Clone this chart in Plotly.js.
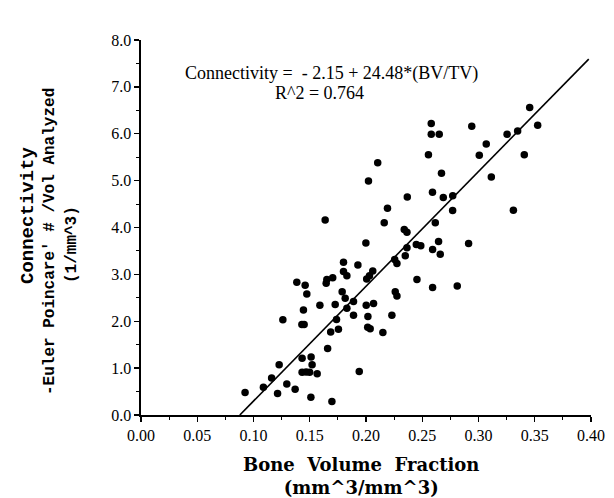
<!DOCTYPE html>
<html>
<head>
<meta charset="utf-8">
<script src="https://cdn.plot.ly/plotly-3.0.1.min.js"></script>
<style>html,body{margin:0;padding:0;background:#fff;}#chart{width:614px;height:498px;}</style>
</head>
<body>
<div id="chart"></div>
<script>
// Bone volume fraction (BV/TV), mm^3/mm^3
const bvtv = [0.0925,0.1088,0.1161,0.1214,0.1228,0.1296,0.1261,0.137,0.1385,0.1459,
  0.1474,0.1444,0.143,0.145,0.1432,0.1432,0.1468,0.1512,0.1521,0.151,
  0.1499,0.1566,0.159,0.1637,0.1652,0.1646,0.1704,0.1659,0.1686,0.1726,
  0.1697,0.1738,0.1755,0.1788,0.18,0.18,0.1815,0.183,0.183,0.1889,
  0.1889,0.1928,0.194,0.1999,0.2006,0.2031,0.206,0.2002,0.2067,0.2017,
  0.2015,0.2037,0.215,0.2162,0.2191,0.223,0.2255,0.2275,0.226,0.2275,
  0.234,0.2364,0.2349,0.2364,0.2367,0.2104,0.2022,0.2447,0.2487,0.2453,
  0.2592,0.2645,0.266,0.2616,0.2592,0.2811,0.2912,0.277,0.2591,0.2687,
  0.2771,0.2671,0.2555,0.258,0.258,0.2651,0.294,0.3069,0.3007,0.3114,
  0.331,0.3254,0.3348,0.3407,0.3455,0.3526];
// Connectivity (-Euler Poincare # / Vol analyzed), 1/mm^3
const connectivity = [0.48,0.59,0.79,0.46,1.07,0.66,2.03,0.55,2.83,2.77,
  2.58,2.24,1.93,1.93,1.21,0.91,0.92,1.24,1.07,0.38,
  0.91,0.88,2.34,4.16,2.89,2.81,2.93,1.42,1.77,2.36,
  0.29,2.04,1.83,2.63,3.26,3.06,2.49,2.28,2.97,2.42,
  2.13,3.2,0.93,3.67,2.9,2.97,3.07,2.34,2.38,2.1,
  1.87,1.84,1.76,4.1,4.41,2.13,3.32,3.23,2.63,2.54,
  3.96,3.9,3.4,3.57,4.65,5.38,4.99,3.64,3.61,2.89,
  3.53,3.7,3.43,4.1,2.72,2.75,3.66,4.36,4.75,4.64,
  4.68,5.16,5.55,6.22,5.99,5.99,6.16,5.78,5.54,5.08,
  4.37,5.99,6.06,5.55,6.56,6.18];
// Regression fit
const fitIntercept = -2.15;
const fitSlope = 24.48;
const fitR2 = 0.764;
const fitXEnd = 0.398;
const xTickVals = [0,0.05,0.10,0.15,0.20,0.25,0.30,0.35,0.40];
const xTickText = ["0.00","0.05","0.10","0.15","0.20","0.25","0.30","0.35","0.40"];
const yTickVals = [0,1,2,3,4,5,6,7,8];
const yTickText = ["0.0","1.0","2.0","3.0","4.0","5.0","6.0","7.0","8.0"];
const yTitleLines = ["Connectivity", "-Euler Poincare' # /Vol Analyzed", "(1/mm^3)"];
const xTitleLines = ["Bone  Volume  Fraction", "(mm^3/mm^3)"];

const fitX = [-fitIntercept / fitSlope, fitXEnd];
const fitY = fitX.map(x => fitIntercept + fitSlope * x);

const serif = "Liberation Serif, DejaVu Serif, serif";
const boldSerif = "DejaVu Serif, Liberation Serif, serif";
const mono = "Liberation Mono, DejaVu Sans Mono, monospace";

const data = [
  {x: fitX, y: fitY, type: 'scatter', mode: 'lines',
   line: {color: '#000', width: 1.6}, hoverinfo: 'skip', showlegend: false},
  {x: bvtv, y: connectivity, type: 'scatter', mode: 'markers',
   marker: {color: '#000', size: 7.5}, showlegend: false}
];

const layout = {
  width: 614, height: 498,
  margin: {l: 141, r: 23, t: 40, b: 83},
  paper_bgcolor: '#fff', plot_bgcolor: '#fff',
  showlegend: false,
  xaxis: {
    range: [0, 0.40], showgrid: false, zeroline: false,
    showline: true, linecolor: '#000', linewidth: 1.6,
    ticks: 'outside', ticklen: 5, tickwidth: 1.3, tickcolor: '#000',
    tickvals: xTickVals, ticktext: xTickText,
    minor: {dtick: 0.025, ticks: 'outside', ticklen: 3, tickwidth: 1, tickcolor: '#000', showgrid: false},
    tickfont: {family: serif, size: 16, color: '#000'}
  },
  yaxis: {
    range: [0, 8], showgrid: false, zeroline: false,
    showline: true, linecolor: '#000', linewidth: 1.6,
    ticks: 'outside', ticklen: 5, tickwidth: 1.3, tickcolor: '#000',
    tickvals: yTickVals, ticktext: yTickText,
    minor: {dtick: 0.5, ticks: 'outside', ticklen: 3, tickwidth: 1, tickcolor: '#000', showgrid: false},
    tickfont: {family: serif, size: 16, color: '#000'}
  },
  annotations: [
    {x: 0.169, y: 7.29, xref: 'x', yref: 'y', showarrow: false,
     text: 'Connectivity =  - ' + Math.abs(fitIntercept).toFixed(2) + ' + ' + fitSlope.toFixed(2) + '*(BV/TV)',
     font: {family: serif, size: 18, color: '#000'}},
    {x: 0.159, y: 6.87, xref: 'x', yref: 'y', showarrow: false,
     text: 'R^2 = ' + fitR2.toFixed(3),
     font: {family: serif, size: 18, color: '#000'}},
    // y-axis title lines
    {x: -0.2511, y: 0.5307, xref: 'paper', yref: 'paper', showarrow: false, textangle: -90,
     xanchor: 'center', yanchor: 'middle', text: yTitleLines[0],
     font: {family: mono, size: 19, color: '#000', weight: 700}},
    {x: -0.2022, y: 0.4613, xref: 'paper', yref: 'paper', showarrow: false, textangle: -90,
     xanchor: 'center', yanchor: 'middle', text: yTitleLines[1],
     font: {family: mono, size: 16, color: '#000', weight: 700}},
    {x: -0.1533, y: 0.4533, xref: 'paper', yref: 'paper', showarrow: false, textangle: -90,
     xanchor: 'center', yanchor: 'middle', text: yTitleLines[2],
     font: {family: mono, size: 16, color: '#000', weight: 700}},
    // x-axis title
    {x: 0.489, y: -0.162, xref: 'paper', yref: 'paper', showarrow: false,
     xanchor: 'center', yanchor: 'middle', text: xTitleLines.join('<br>'),
     font: {family: boldSerif, size: 18, color: '#000', weight: 700}}
  ]
};

Plotly.newPlot('chart', data, layout, {displayModeBar: false, staticPlot: true});
</script>
</body>
</html>
